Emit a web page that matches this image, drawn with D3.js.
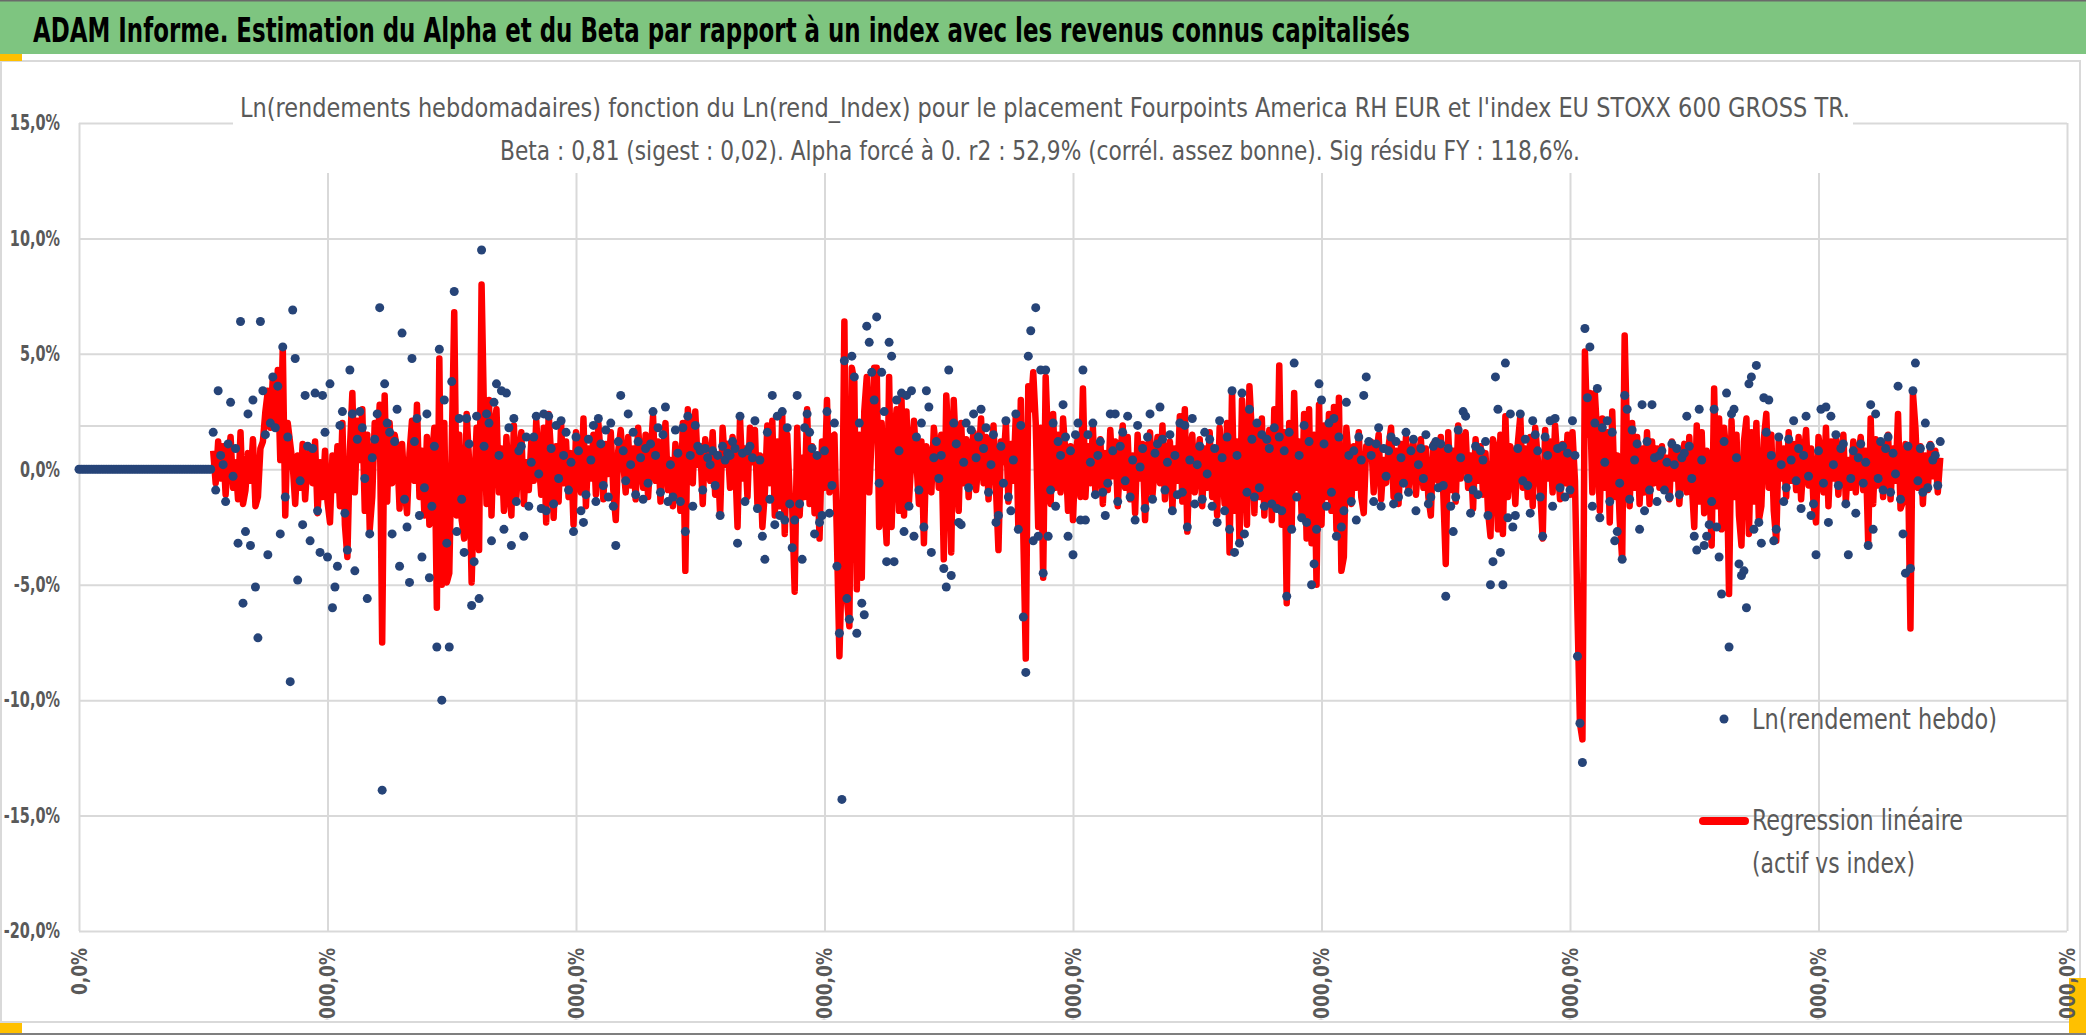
<!DOCTYPE html>
<html>
<head>
<meta charset="utf-8">
<script src="https://cdn.jsdelivr.net/npm/d3@7"></script>
<style>
  html, body { margin: 0; padding: 0; background: #fff; overflow: hidden; }
  svg { display: block; }
</style>
</head>
<body>
<div id="chart"></div>
<script>
// Excel-like scatter: weekly log returns of the fund (dots) and regression on the index (red line)

const yTicks = [15, 10, 5, 0, -5, -10, -15, -20]
const xTicks = [0, 100, 200, 300, 400, 500, 600, 700, 800]
const xTickLabels = ["0,0%", "10000,0%", "20000,0%", "30000,0%", "40000,0%",
  "50000,0%", "60000,0%", "70000,0%", "80000,0%"]
const refLine = 1.87

// weeks before the fund exists : return 0
const avantLancement = [
  0,0,0,0,0,0,0,0,0,0, 0,0,0,0,0,0,0,0,0,0, 0,0,0,0,0,0,0,0,0,0,
  0,0,0,0,0,0,0,0,0,0, 0,0,0,0,0,0,0,0,0,0, 0,0,0,0
]

// Ln(rendement hebdo), in %
const lnRendement = [
  1.6,-0.9,3.4,0.6,0.2,-1.4,1.1,2.9,-0.3,0.9,
  -3.2,6.4,-5.8,-2.7,2.4,-3.3,3.0,-5.1,-7.3,6.4,
  3.4,1.5,-3.7,2.0,4.0,1.8,3.6,-2.8,5.3,-1.2,
  1.4,-9.2,6.9,4.8,-4.8,-0.5,-2.4,3.2,1.0,-3.1,
  0.9,3.3,-1.8,-3.6,3.2,1.6,-3.8,3.7,-6.0,-5.1,
  -4.2,1.9,2.5,-1.9,-3.5,4.3,2.4,-4.4,1.3,2.5,
  1.8,-0.4,-5.6,-2.8,0.5,1.3,2.4,7.0,-13.9,3.7,
  2.0,1.6,-2.8,1.2,2.6,-4.2,5.9,-1.3,-2.5,-4.9,
  4.8,1.2,2.2,-2.0,-3.8,-0.8,2.4,-4.7,-1.6,1.0,
  -7.7,5.2,-10.0,3.0,-3.2,-7.7,3.8,7.7,-2.7,2.2,
  -1.3,-3.6,2.2,1.1,-5.9,-4.0,2.3,-5.6,9.5,1.0,
  2.4,2.0,-3.1,2.9,3.7,0.6,3.4,-2.6,
  3.3,1.8,-3.3,2.2,-1.4,0.8,1.0,-2.9,1.4,-1.6,
  0.3,1.4,2.3,-0.2,-1.7,2.4,-1.8,2.3,0.9,-1.5,
  1.9,-0.4,2.1,0.6,1.6,-0.9,0.3,-2.7,1.4,0.8,
  -1.8,-2.3,-1.1,1.3,0.4,1.9,-1.4,2.2,1.1,-0.7,
  1.7,-1.2,2.0,-1.6,-3.3,1.2,3.2,0.8,-0.5,2.4,
  0.2,1.6,-1.1,1.2,0.5,-1.3,0.9,-0.6,1.1,2.5,
  0.6,1.8,-1.0,1.5,2.7,-1.4,0.2,-1.2,1.7,0.7,
  -1.4,1.8,-2.7,2.3,0.6,-1.6,1.9,1.0,0.8,-0.9,
  0.9,0.5,0.2,0.8,-0.7,0.6,-2.0,1.0,0.4,0.7,
  0.6,1.2,0.9,-3.2,2.3,0.7,-1.4,0.8,1.0,0.5,
  2.1,-1.7,0.4,-2.9,-3.9,1.6,-1.3,3.2,-2.4,2.3,
  -2.0,2.5,-2.2,1.8,-1.5,
  -3.4,-2.2,3.2,-1.5,-3.9,1.8,2.4,1.6,0.9,-2.8,0.6,-2.3,-2.0,0.8,2.5,-1.9,-0.7,
  2.0,-4.2,-7.1,-14.3,4.7,-5.6,-6.5,4.9,4.0,-7.1,
  2.0,-5.8,-6.3,6.2,5.5,4.2,3.0,6.6,-0.6,4.2,
  2.5,-4.0,5.5,4.9,-4.0,3.0,0.8,3.3,-2.7,3.2,
  -1.6,3.4,-2.9,1.4,-0.9,2.0,-2.5,3.4,2.7,-3.6,
  0.5,1.2,-0.4,0.6,-4.3,-5.1,4.3,-4.6,2.0,1.1,
  -2.3,-2.4,0.3,2.0,-0.8,1.7,2.4,0.5,1.4,2.6,
  0.9,1.8,-1.0,0.2,1.5,-2.3,-2.0,1.0,-0.6,2.1,
  -1.2,-1.8,0.4,2.4,-2.6,1.9,-6.4,-8.8,4.9,6.0,
  -3.1,7.0,-2.9,4.3,-4.5,4.3,-2.9,-0.9,2.0,-1.6,
  1.2,0.6,2.8,1.4,-2.9,0.8,-3.7,1.5,2.0,-2.2,
  4.3,-2.2,1.5,0.3,2.0,-1.1,0.6,1.2,-1.0,-2.0,
  -0.6,2.4,0.8,2.4,-1.4,1.0,1.6,-0.5,2.3,-1.2,
  0.4,-2.2,1.9,0.1,0.9,-1.7,1.4,2.4,-1.3,0.7,
  1.1,2.7,1.3,-0.9,0.3,1.5,-1.8,0.6,-1.1,2.0,
  -1.0,1.9,-2.5,0.4,2.2,-1.5,0.2,1.0,-1.3,1.6,
  -0.2,1.3,-1.6,0.9,-2.3,2.1,0.5,-1.8,1.4,-2.6,
  3.4,-3.6,0.6,-3.2,3.3,-2.8,-1.0,2.6,1.3,-1.2,
  2.0,-0.8,1.5,-1.6,1.3,0.9,-1.5,1.8,-1.7,1.4,
  -1.8,0.8,-5.5,1.6,-2.6,4.6,-1.2,0.6,-2.1,1.9,
  -2.3,1.2,-5.0,-4.1,-2.6,3.7,3.0,1.1,-1.6,2.0,
  -1.0,2.2,-2.9,1.4,-2.5,-1.8,2.9,0.6,-1.4,0.8,
  -2.2,1.4,0.4,3.2,4.0,1.2,
  0.6,-1.4,1.1,1.8,-1.6,0.9,-0.3,0.8,1.4,-1.5,
  1.2,-1.2,0.5,-0.6,1.6,-1.0,0.8,1.3,-1.8,0.2,
  0.9,-0.4,1.5,-1.5,-1.2,1.0,1.2,-0.8,1.1,-0.7,
  -5.5,0.9,-1.6,-2.7,-1.2,1.7,0.5,2.5,2.3,-0.4,
  -1.9,-0.9,1.0,-1.1,0.8,0.4,1.2,-2.0,-5.0,-4.0,
  4.0,2.6,-3.6,-5.0,4.6,-2.1,2.4,-2.5,-2.0,0.9,
  2.4,-0.5,1.3,-0.7,-1.9,2.1,1.5,0.8,-1.2,-2.9,
  1.4,0.6,2.1,-1.6,2.2,0.9,-0.8,1.0,-1.2,0.7,
  -0.9,2.1,0.6,-8.1,-11.0,-12.7,6.1,3.1,5.3,-1.6,
  2.0,3.5,-2.1,1.8,0.3,2.1,-1.4,1.6,-3.1,-2.7,
  -0.6,-3.9,3.2,2.6,-1.3,1.7,0.4,1.1,-2.6,2.8,
  -1.8,1.2,-0.9,2.8,0.5,-1.4,0.6,
  0.8,-0.9,0.3,-1.2,1.1,0.2,0.9,-1.1,0.5,0.7,
  2.3,1.0,-0.4,-2.9,-3.5,2.6,0.4,-3.3,-2.9,-2.4,
  -1.4,2.6,-2.5,-3.8,-5.4,1.2,3.3,-7.7,2.4,2.6,
  0.5,-4.1,-4.6,-4.4,-6.0,3.7,4.0,-2.6,4.5,-2.3,
  -3.2,3.1,1.6,3.0,0.6,-3.1,-2.6,1.4,0.2,-1.4,
  -0.8,1.3,0.4,2.1,-0.5,0.9,-1.7,0.6,2.3,-0.3,
  -2.0,-1.5,-3.7,0.8,2.6,-0.6,2.7,-2.3,2.3,0.2,
  1.5,-0.7,0.9,1.1,-1.5,-3.7,-0.4,0.8,-1.9,0.5,
  1.1,-0.6,0.3,-3.3,2.8,-2.6,2.4,-0.4,1.2,-0.9,
  0.9,1.4,-1.0,0.7,-0.2,3.6,-1.3,-2.8,-4.5,1.0,
  -4.3,3.4,4.6,-0.5,0.9,-1.0,2.0,-0.8,1.0,0.4,
  0.6,-0.7,1.2
]

// Regression linéaire (beta x index), in %
const regression = [
  0.8,-0.6,1.2,-0.4,1.0,-1.1,0.5,1.4,-0.8,0.3,
  -1.3,1.6,-1.5,-0.9,0.7,-0.5,1.3,-1.6,-1.2,0.9,
  1.2,2.5,3.4,1.8,4.0,2.1,4.3,0.4,5.3,-2.0,
  2.0,1.1,0.2,-1.5,0.6,-0.8,1.1,-1.3,0.4,0.9,
  -0.6,1.2,-1.9,0.3,-1.2,0.8,-1.4,-2.3,0.6,-0.9,
  1.0,-1.6,2.0,-2.4,-3.8,0.8,3.3,-1.0,2.1,0.4,
  2.6,-1.8,1.5,-2.6,-1.2,2.0,0.6,2.8,-7.5,3.2,
  -1.4,2.0,-0.6,1.5,0.9,-1.7,1.1,-0.8,-1.9,0.7,
  2.1,-0.5,2.8,-1.2,0.8,-2.0,1.4,-2.4,0.5,1.8,
  -6.0,4.8,-5.0,2.0,-4.9,-4.5,1.0,6.8,-2.0,1.5,
  -2.2,-3.0,2.4,0.3,-4.9,-1.0,1.8,-3.5,8.0,2.2,
  -1.5,3.0,-2.0,1.8,2.6,-1.0,0.9,-1.8,
  1.4,-0.8,-2.0,1.9,-1.2,0.6,1.6,-1.5,0.3,-0.9,
  1.2,-0.5,2.1,0.4,-1.1,1.8,-2.3,2.4,0.6,-2.1,
  1.0,-1.4,2.0,-0.6,1.2,-1.2,0.7,-2.4,1.6,0.2,
  -1.0,2.2,-1.6,0.9,-0.4,1.5,-1.1,2.0,0.5,-1.3,
  1.1,-0.2,1.6,-0.9,-2.2,0.8,1.7,0.3,-1.0,1.4,
  -0.7,0.9,-1.3,1.8,0.2,-0.8,1.5,-1.2,0.6,2.3,
  -0.5,1.2,-1.4,0.7,2.0,-0.9,0.4,-1.6,1.1,0.3,
  -1.8,2.0,-4.4,2.6,1.4,-0.6,2.5,0.2,1.0,-1.5,
  1.3,0.4,-0.5,1.6,-1.1,0.6,-2.0,1.8,0.2,1.1,
  -0.8,1.4,0.5,-2.5,2.2,-0.4,0.9,-1.2,1.8,0.3,
  1.7,-1.5,0.6,-2.5,-1.0,1.9,-0.6,2.1,-2.0,1.2,
  -1.6,2.3,-2.8,1.5,-1.1,
  -1.6,-5.3,1.8,-2.0,0.5,-1.2,2.6,-1.5,1.0,-1.9,0.6,-3.0,1.2,-0.8,3.0,-1.0,1.4,
  1.5,-3.0,-8.1,-4.0,6.4,-5.6,-6.8,4.4,3.8,-5.2,
  1.5,-4.7,2.5,4.0,-1.0,1.5,4.4,4.4,-2.5,2.0,
  -1.2,-3.2,4.0,-2.5,1.2,2.6,-1.8,3.0,-2.0,2.5,
  -1.4,0.6,2.1,0.3,-1.5,1.2,-3.2,1.0,0.4,-1.0,
  1.8,0.8,-0.8,1.5,-3.9,3.2,1.0,-3.6,3.0,0.5,
  -1.8,2.0,-0.6,1.3,-1.2,0.8,1.6,-0.9,0.4,2.2,
  -0.6,1.4,-1.3,0.7,1.9,-0.8,-3.5,1.2,0.3,2.0,
  -1.4,1.1,-0.5,2.4,-2.5,3.0,-2.8,-8.2,3.6,2.6,
  4.2,2.0,-2.5,1.8,-4.7,4.0,1.0,-1.5,2.4,-0.8,
  1.5,-1.0,2.2,0.6,-1.8,1.0,-2.2,0.7,1.4,-1.2,
  3.5,-1.2,1.0,-0.6,1.8,-1.0,0.4,1.3,-1.5,0.7,
  -0.9,1.7,-0.3,1.2,-1.6,0.5,1.9,-0.8,1.4,-1.3,
  0.6,-1.9,1.5,-0.4,1.1,-2.2,0.8,1.6,-1.1,0.3,
  1.4,-0.6,1.9,-1.3,0.5,1.2,-1.7,0.9,-0.5,2.3,
  -1.4,2.6,-2.7,0.8,1.5,-1.0,0.4,1.3,-1.6,0.9,
  -0.8,1.6,-1.2,0.6,-2.0,1.8,0.3,-1.5,2.0,-3.6,
  3.4,-1.8,1.2,-3.2,3.0,0.8,-2.4,3.6,1.5,-1.9,
  1.9,-1.2,2.2,-2.0,0.8,1.7,-2.2,2.6,-1.5,4.5,
  -2.4,1.6,-5.8,2.0,-2.5,3.3,-0.8,1.2,-2.0,2.4,
  -3.0,2.6,-3.2,1.5,-5.0,2.8,-2.4,1.9,-1.2,2.4,
  -1.8,2.7,-2.6,3.1,-4.4,-3.8,1.8,0.4,-1.5,1.0,
  -0.8,1.6,-1.2,-1.9,1.0,0.8,
  1.2,-1.0,0.6,1.5,-1.3,0.4,-0.6,1.0,1.8,-1.2,
  0.8,-1.5,1.1,-0.4,1.4,-0.9,0.5,1.2,-1.1,0.3,
  1.3,-0.8,0.9,-1.2,-2.0,1.1,0.6,-0.5,1.4,-1.0,
  -4.1,1.6,-0.9,0.8,-1.4,1.9,-0.4,1.2,1.6,-0.8,
  0.6,-1.7,1.3,-0.5,1.0,-1.1,0.7,-1.8,-2.9,1.3,
  0.8,-2.6,1.5,-2.8,2.3,-1.2,1.0,0.4,-1.5,1.1,
  2.3,-0.8,0.9,-1.2,1.4,-1.6,1.8,0.5,-0.9,-3.0,
  1.7,-0.4,1.2,-1.0,1.9,0.3,-1.3,1.1,-0.6,1.5,
  -1.1,1.6,-0.5,-6.2,-11.0,-11.7,5.1,1.5,3.3,-1.0,
  3.3,1.4,-1.8,2.2,-0.8,1.6,-2.3,2.5,-1.2,0.6,
  -2.2,-3.9,5.8,1.0,-1.6,2.0,-0.8,1.4,-1.5,0.9,
  -1.0,1.6,-1.5,1.2,-0.6,0.9,-0.8,
  1.0,-0.7,0.5,-1.3,1.2,-0.4,0.8,-1.5,0.3,1.1,
  -1.0,1.4,-0.6,-2.5,1.9,-1.4,1.6,-1.9,0.8,-0.5,
  -3.3,3.5,-1.6,2.2,-2.6,1.8,0.6,-5.4,2.1,-1.2,
  1.5,-2.0,-3.3,1.2,2.2,-2.8,1.6,-1.4,2.0,-2.2,
  -1.6,1.3,2.4,-0.8,1.5,-1.8,-3.1,1.2,-0.4,0.9,
  -1.2,1.6,-0.5,1.1,-0.9,1.4,-1.3,0.4,1.7,-0.7,
  0.9,-1.5,-2.3,1.4,0.6,-1.0,1.8,-1.6,1.2,-0.4,
  1.3,-1.1,0.7,1.5,-1.4,0.4,-0.8,1.2,-1.0,0.6,
  1.4,-0.9,0.8,-3.2,2.2,-1.5,1.3,-0.7,1.0,-1.2,
  0.6,1.5,-1.3,0.9,-0.5,2.4,-1.7,-1.4,1.1,0.4,
  -6.9,3.3,1.8,-0.8,1.0,-1.5,0.6,-0.9,1.1,-0.3,
  0.8,-1.0,0.5
]

const WIDTH = 2086
const HEIGHT = 1035
const PLOT = { LEFT: 79, RIGHT: 2067, TOP: 123, BOTTOM: 931 }
const FONT = '"Liberation Sans Narrow", "DejaVu Sans Condensed", "Open Sans", sans-serif'
const GREY_TEXT = "#595959"
const GRID = "#D9D9D9"
const BLUE = "#264478"
const RED = "#FF0000"

const pct = d => d.toFixed(1).replace(".", ",") + "%"

// approximate advance widths (em) of the narrow bold tick font, to fit label lengths
const CHAR_EM = { "-": 0.306, ",": 0.258, "%": 0.729 }
const labelWidth = (s, size) =>
  d3.sum(s.split(""), c => CHAR_EM[c] !== undefined ? CHAR_EM[c] : 0.507) * size

const svg = d3.select("#chart")
  .append("svg")
  .attr("width", WIDTH)
  .attr("height", HEIGHT)
  .style("font-family", FONT)

// sheet decorations : green title band, borders, yellow cells
svg.append("rect").attr("x", 0).attr("y", 0).attr("width", WIDTH).attr("height", 54)
  .attr("fill", "#7EC580")
svg.append("rect").attr("x", 0).attr("y", 0).attr("width", WIDTH).attr("height", 1.5)
  .attr("fill", "#6a6a6a")
svg.append("rect").attr("x", 1).attr("y", 61).attr("width", 2079).attr("height", 961)
  .attr("fill", "none").attr("stroke", GRID).attr("stroke-width", 2)
svg.append("rect").attr("x", 0).attr("y", 1033).attr("width", WIDTH).attr("height", 2)
  .attr("fill", "#7f7f7f")
svg.append("rect").attr("x", 0).attr("y", 54).attr("width", 22).attr("height", 7).attr("fill", "#FFC000")
svg.append("rect").attr("x", 0).attr("y", 1023).attr("width", 22).attr("height", 10).attr("fill", "#FFC000")
svg.append("rect").attr("x", 2069).attr("y", 978).attr("width", 17).attr("height", 55).attr("fill", "#FFC000")

svg.append("text")
  .attr("x", 33).attr("y", 42)
  .attr("font-size", 34).attr("font-weight", "bold").attr("fill", "#000")
  .attr("textLength", 1377).attr("lengthAdjust", "spacingAndGlyphs")
  .text("ADAM Informe. Estimation du Alpha et du Beta par rapport à un index avec les revenus connus capitalisés")

// scales
const x = d3.scaleLinear().domain([0, 800]).range([PLOT.LEFT, PLOT.RIGHT])
const y = d3.scaleLinear().domain([-20, 15]).range([PLOT.BOTTOM, PLOT.TOP])

// y axis + horizontal gridlines
const yAxis = svg.append("g")
  .attr("transform", `translate(${PLOT.LEFT},0)`)
  .call(d3.axisLeft(y)
    .tickValues(yTicks)
    .tickSize(-(PLOT.RIGHT - PLOT.LEFT))
    .tickPadding(19)
    .tickFormat(pct))
yAxis.select(".domain").remove()
yAxis.selectAll("line").attr("stroke", GRID).attr("stroke-width", 2)
yAxis.selectAll("text")
  .attr("fill", GREY_TEXT).attr("font-size", 21).attr("font-weight", "bold")
  .attr("textLength", d => labelWidth(pct(d), 20))
  .attr("lengthAdjust", "spacingAndGlyphs")
  .style("font-family", FONT)

// x axis + vertical gridlines, labels rotated and cut by the chart frame
const xClip = svg.append("clipPath").attr("id", "xclip")
xClip.append("rect").attr("x", 0).attr("y", 0).attr("width", WIDTH).attr("height", 1020)
const xWrap = svg.append("g").attr("clip-path", "url(#xclip)")
const xAxis = xWrap.append("g")
  .attr("transform", `translate(0,${PLOT.BOTTOM})`)
  .call(d3.axisBottom(x)
    .tickValues(xTicks)
    .tickSize(-(PLOT.BOTTOM - PLOT.TOP))
    .tickFormat((d, i) => xTickLabels[i]))
xAxis.select(".domain").remove()
xAxis.selectAll("line").attr("stroke", GRID).attr("stroke-width", 2)
xAxis.selectAll("text")
  .attr("transform", "rotate(-90)")
  .attr("text-anchor", "end")
  .attr("x", -17).attr("y", 0).attr("dy", "0.35em")
  .attr("fill", GREY_TEXT).attr("font-size", 21).attr("font-weight", "bold")
  .attr("textLength", (d, i) => labelWidth(xTickLabels[i], 23.5))
  .attr("lengthAdjust", "spacingAndGlyphs")
  .style("font-family", FONT)

svg.append("line")
  .attr("x1", PLOT.LEFT).attr("x2", PLOT.RIGHT)
  .attr("y1", y(refLine)).attr("y2", y(refLine))
  .attr("stroke", GRID).attr("stroke-width", 2)

// chart title box hides the top of the grid
svg.append("rect").attr("x", 233).attr("y", 78).attr("width", 1620).attr("height", 95)
  .attr("fill", "#fff")
svg.append("text")
  .attr("x", 1045).attr("y", 117).attr("text-anchor", "middle")
  .attr("font-size", 27).attr("fill", GREY_TEXT)
  .attr("textLength", 1610).attr("lengthAdjust", "spacingAndGlyphs")
  .text("Ln(rendements hebdomadaires) fonction du Ln(rend_Index) pour le placement Fourpoints America RH EUR et l'index EU STOXX 600 GROSS TR.")
svg.append("text")
  .attr("x", 1040).attr("y", 160).attr("text-anchor", "middle")
  .attr("font-size", 27).attr("fill", GREY_TEXT)
  .attr("textLength", 1080).attr("lengthAdjust", "spacingAndGlyphs")
  .text("Beta : 0,81 (sigest : 0,02). Alpha forcé à 0. r2 : 52,9% (corrél. assez bonne). Sig résidu FY : 118,6%.")

// series
const start = avantLancement.length
const fund = avantLancement.concat(lnRendement)

svg.append("path")
  .datum(regression)
  .attr("fill", "none")
  .attr("stroke", RED)
  .attr("stroke-width", 6.5)
  .attr("stroke-linejoin", "round")
  .attr("d", d3.line()
    .x((d, i) => x(start + i))
    .y(d => y(d)))

svg.append("g")
  .selectAll("circle")
  .data(fund)
  .enter()
  .append("circle")
    .attr("cx", (d, i) => x(i))
    .attr("cy", d => y(d))
    .attr("r", 4.5)
    .attr("fill", BLUE)

// legend
const legend = svg.append("g")
legend.append("circle").attr("cx", 1724).attr("cy", 719).attr("r", 4.5).attr("fill", BLUE)
legend.append("text").attr("x", 1752).attr("y", 729)
  .attr("font-size", 28).attr("fill", GREY_TEXT)
  .attr("textLength", 245).attr("lengthAdjust", "spacingAndGlyphs")
  .text("Ln(rendement hebdo)")
legend.append("line").attr("x1", 1703).attr("x2", 1745).attr("y1", 821).attr("y2", 821)
  .attr("stroke", RED).attr("stroke-width", 8).attr("stroke-linecap", "round")
legend.append("text").attr("x", 1752).attr("y", 830)
  .attr("font-size", 28).attr("fill", GREY_TEXT)
  .attr("textLength", 211).attr("lengthAdjust", "spacingAndGlyphs")
  .text("Regression linéaire")
legend.append("text").attr("x", 1752).attr("y", 873)
  .attr("font-size", 28).attr("fill", GREY_TEXT)
  .attr("textLength", 163).attr("lengthAdjust", "spacingAndGlyphs")
  .text("(actif vs index)")
</script>
</body>
</html>
